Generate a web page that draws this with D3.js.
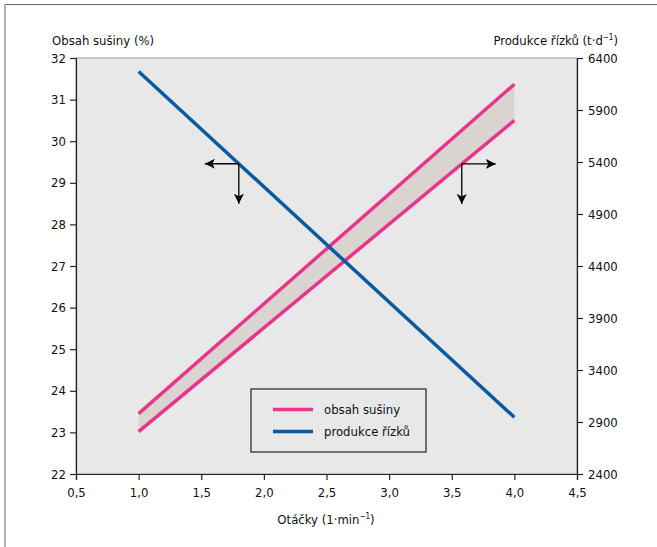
<!DOCTYPE html>
<html><head><meta charset="utf-8">
<script src="https://cdn.jsdelivr.net/npm/d3@7"></script>
<style>
body{margin:0;background:#fff;}
svg text{font-family:"Liberation Sans Narrow","Arial Narrow","DejaVu Sans Condensed",sans-serif;fill:#111;}
</style></head><body>
<svg id="c" width="657" height="547"></svg>
<script>
// data
const xTicks = [0.5,1.0,1.5,2.0,2.5,3.0,3.5,4.0,4.5];
const leftTicks = [22,23,24,25,26,27,28,29,30,31,32];
const rightTicks = [2400,2900,3400,3900,4400,4900,5400,5900,6400];
const otacky = [1.0, 4.0];
const susinyUpper = [23.45, 31.37];
const susinyLower = [23.02, 30.5];
const produkce = [6270, 2945];
const arrowLeftX = 1.8;
const arrowRightX = 3.58;
const legendLabels = ["obsah sušiny","produkce řízků"];
const colors = {pink:"#e8348a", blue:"#0a5aa0", band:"#d9d4d0", bg:"#e8e8e8"};

const svg = d3.select("#c");
const L=76,R=577,T=58,B=474;
const x = d3.scaleLinear().domain([0.5,4.5]).range([L,R]);
const yL = d3.scaleLinear().domain([22,32]).range([B,T]);
const yR = d3.scaleLinear().domain([2400,6400]).range([B,T]);

// outer frame
svg.append("path").attr("d","M5,547 V4.5 H657").attr("fill","none").attr("stroke","#666").attr("stroke-width",1);

// plot bg
svg.append("rect").attr("x",L).attr("y",T).attr("width",R-L).attr("height",B-T).attr("fill",colors.bg).attr("stroke","#999").attr("stroke-width",1);

const fmt = d => d3.format(".1f")(d).replace(".",",");
const fontSize = 13;

// axes
const gx = svg.append("g").attr("transform",`translate(0,${B})`).call(d3.axisBottom(x).tickValues(xTicks).tickFormat(fmt).tickSizeOuter(0).tickSize(6).tickPadding(8));
const gl = svg.append("g").attr("transform",`translate(${L},0)`).call(d3.axisLeft(yL).tickValues(leftTicks).tickFormat(d3.format("d")).tickSizeOuter(0).tickSize(6).tickPadding(4));
const gr = svg.append("g").attr("transform",`translate(${R},0)`).call(d3.axisRight(yR).tickValues(rightTicks).tickFormat(d3.format("d")).tickSizeOuter(0).tickSize(6).tickPadding(5));
[gx,gl,gr].forEach(g=>{
  g.selectAll("path,line").attr("stroke","#222").attr("stroke-width",1.2);
  g.selectAll("text").attr("font-size",fontSize).attr("font-family",null).attr("fill","#111");
});

// band between pink lines
const idx = d3.range(otacky.length);
svg.append("path").datum(idx)
  .attr("d", d3.area().x(i=>x(otacky[i])).y0(i=>yL(susinyLower[i])).y1(i=>yL(susinyUpper[i])))
  .attr("fill",colors.band);

const lineOf = (arr, sc) => d3.line().x(i=>x(otacky[i])).y(i=>sc(arr[i]))(idx);
svg.append("path").attr("d",lineOf(susinyUpper,yL)).attr("stroke",colors.pink).attr("stroke-width",3.5).attr("fill","none");
svg.append("path").attr("d",lineOf(susinyLower,yL)).attr("stroke",colors.pink).attr("stroke-width",3.5).attr("fill","none");
svg.append("path").attr("d",lineOf(produkce,yR)).attr("stroke",colors.blue).attr("stroke-width",3.5).attr("fill","none");

// arrows
const defs = svg.append("defs");
defs.append("marker").attr("id","ah").attr("viewBox","0 0 10 10").attr("refX",10).attr("refY",5)
  .attr("markerWidth",10).attr("markerHeight",10).attr("markerUnits","userSpaceOnUse").attr("orient","auto")
  .append("path").attr("d","M0,0 L10,5 L0,10 L2.5,5 Z").attr("fill","#000");
function interp(xs, ys, xv){ const t=(xv-xs[0])/(xs[1]-xs[0]); return ys[0]+t*(ys[1]-ys[0]); }
const c1x = x(arrowLeftX), c1y = yR(interp(otacky,produkce,arrowLeftX));
const c2x = x(arrowRightX), c2y = yL(interp(otacky,susinyLower,arrowRightX));
[[c1x,c1y,-1],[c2x,c2y,1]].forEach(([cx,cy,dir])=>{
  svg.append("line").attr("x1",cx).attr("y1",cy).attr("x2",cx+dir*34).attr("y2",cy).attr("stroke","#000").attr("stroke-width",1.3).attr("marker-end","url(#ah)");
  svg.append("line").attr("x1",cx).attr("y1",cy).attr("x2",cx).attr("y2",cy+40).attr("stroke","#000").attr("stroke-width",1.3).attr("marker-end","url(#ah)");
});

// legend
svg.append("rect").attr("x",251).attr("y",389).attr("width",175).attr("height",63).attr("fill","none").attr("stroke","#222").attr("stroke-width",1.2);
[[colors.pink,409.5],[colors.blue,431.5]].forEach(([c,yy],i)=>{
  svg.append("line").attr("x1",273).attr("x2",313).attr("y1",yy).attr("y2",yy).attr("stroke",c).attr("stroke-width",3.5);
  svg.append("text").attr("x",324).attr("y",yy+4.5).attr("font-size",fontSize).text(legendLabels[i]);
});

// titles
svg.append("text").attr("x",52).attr("y",45).attr("font-size",fontSize).text("Obsah sušiny (%)");
const rt = svg.append("text").attr("x",618).attr("y",45).attr("font-size",fontSize).attr("text-anchor","end");
rt.append("tspan").text("Produkce řízků (t·d");
rt.append("tspan").attr("font-size",8).attr("dy",-5).text("−1");
rt.append("tspan").attr("dy",5).text(")");
const xt = svg.append("text").attr("x",326).attr("y",524).attr("font-size",fontSize).attr("text-anchor","middle");
xt.append("tspan").text("Otáčky (1·min");
xt.append("tspan").attr("font-size",8).attr("dy",-5).text("−1");
xt.append("tspan").attr("dy",5).text(")");
</script>
</body></html>
